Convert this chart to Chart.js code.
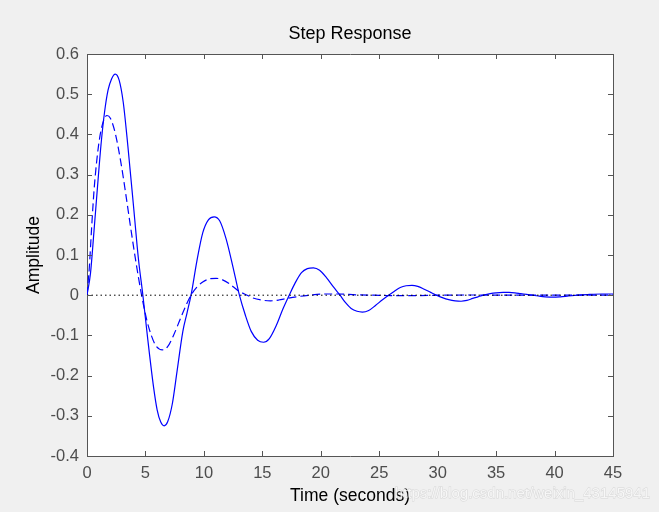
<!DOCTYPE html>
<html>
<head>
<meta charset="utf-8">
<script src="https://cdn.jsdelivr.net/npm/chart.js@4/dist/chart.umd.min.js"></script>
<style>
    html, body { margin: 0; padding: 0; background: #f0f0f0; }
    #wrap { width: 659px; height: 512px; }
</style>
</head>
<body>
<div id="wrap"><canvas id="grafico" width="659" height="512"></canvas></div>
<script>
// valori
const tempoPieno = [0, 0.3, 0.6, 0.9, 1.2, 1.5, 1.8, 2.1, 2.42, 2.75, 3.1, 3.5, 4.0, 4.4, 4.78,
    5.2, 5.7, 6.0, 6.3, 6.6, 6.9, 7.3, 7.7, 8.2, 8.55, 8.9, 9.4, 9.9, 10.4, 10.88, 11.35, 11.9, 12.45, 13.04,
    13.55, 14.05, 14.6, 15.1, 15.6, 16.2, 16.75, 17.3, 17.8, 18.35, 18.85, 19.37, 19.9, 20.5, 21.1, 21.65,
    22.1, 22.6, 23.1, 23.56, 24.1, 24.7, 25.25, 25.8, 26.3, 26.8, 27.3, 27.8, 28.3, 28.85, 29.4, 29.9,
    30.4, 30.95, 31.5, 32.0, 32.5, 33.0, 33.45, 33.9, 34.5, 35.0, 35.6, 36.1, 36.6, 37.1, 37.6, 38.1,
    38.6, 39.2, 39.9, 40.5, 41.2, 42.0, 43.0, 44.0, 45.0]
const rispostaPiena = [0, 0.055, 0.16, 0.27, 0.375, 0.455, 0.51, 0.538, 0.55, 0.535, 0.48, 0.37, 0.215, 0.09, 0,
    -0.11, -0.23, -0.285, -0.315, -0.325, -0.315, -0.27, -0.19, -0.09, -0.045, 0, 0.085, 0.155, 0.188, 0.195, 0.185, 0.14, 0.075, 0,
    -0.05, -0.09, -0.112, -0.117, -0.108, -0.075, -0.035, 0, 0.03, 0.056, 0.066, 0.068, 0.062, 0.043, 0.02, 0,
    -0.018, -0.033, -0.04, -0.042, -0.038, -0.025, -0.012, 0, 0.01, 0.019, 0.0235, 0.0245, 0.022, 0.015, 0.007, 0,
    -0.006, -0.011, -0.014, -0.015, -0.013, -0.008, -0.004, 0, 0.004, 0.006, 0.007, 0.007, 0.006, 0.004, 0.002, 0,
    -0.002, -0.004, -0.005, -0.004, -0.002, 0, 0.002, 0.003, 0.003]

const tempoTratteggio = [0, 0.2, 0.4, 0.6, 0.8, 1.0, 1.2, 1.45, 1.71, 2.0, 2.4, 2.9, 3.3, 3.7, 4.2, 4.67,
    5.1, 5.5, 5.9, 6.45, 6.9, 7.4, 7.9, 8.4, 8.9, 9.4, 9.9, 10.4, 11.05, 11.6, 12.2, 12.9, 13.7,
    14.2, 14.9, 15.7, 16.4, 17.1, 17.9, 19.0, 20.2, 21.5, 23.0, 24.5, 26, 28, 30, 33, 36, 40, 45]
const rispostaTratteggio = [0, 0.07, 0.17, 0.26, 0.325, 0.375, 0.41, 0.437, 0.447, 0.44, 0.405, 0.33, 0.255, 0.175, 0.08, 0,
    -0.06, -0.1, -0.126, -0.136, -0.128, -0.1, -0.065, -0.03, 0, 0.02, 0.033, 0.04, 0.042, 0.038, 0.028, 0.012, 0,
    -0.007, -0.012, -0.014, -0.012, -0.008, -0.004, 0, 0.003, 0.003, 0.001, 0, -0.001, -0.001, 0, 0.0005, 0, 0, 0]

const lineaZero = [0, 45]

const xTicks = [0, 5, 10, 15, 20, 25, 30, 35, 40, 45]
const yTicks = [-0.4, -0.3, -0.2, -0.1, 0, 0.1, 0.2, 0.3, 0.4, 0.5, 0.6]

const coloreAssi = '#555555'
const coloreTesto = '#4d4d4d'
const fontBase = '"Liberation Sans", Arial, sans-serif'

function punti(tt, yy) {
    return tt.map((t, i) => ({ x: t, y: yy[i] }))
}

// sfondo grigio + area bianca
const sfondo = {
    id: 'sfondo',
    beforeDraw(chart) {
        const ctx = chart.ctx
        const a = chart.chartArea
        ctx.save()
        ctx.fillStyle = '#f0f0f0'
        ctx.fillRect(0, 0, chart.width, chart.height)
        ctx.fillStyle = '#ffffff'
        ctx.fillRect(a.left, a.top, a.right - a.left, a.bottom - a.top)
        ctx.restore()
    }
}

// tacche verso l'interno su tutti i lati
const tacche = {
    id: 'tacche',
    afterDraw(chart) {
        const ctx = chart.ctx
        const a = chart.chartArea
        const sx = chart.scales.x
        const sy = chart.scales.y
        const l = 5
        ctx.save()
        ctx.strokeStyle = coloreAssi
        ctx.lineWidth = 1
        ctx.beginPath()
        xTicks.forEach(v => {
            let p = Math.round(sx.getPixelForValue(v)) + 0.5
            ctx.moveTo(p, a.bottom); ctx.lineTo(p, a.bottom - l)
            ctx.moveTo(p, a.top); ctx.lineTo(p, a.top + l)
        })
        yTicks.forEach(v => {
            let p = Math.round(sy.getPixelForValue(v)) + 0.5
            ctx.moveTo(a.left, p); ctx.lineTo(a.left + l, p)
            ctx.moveTo(a.right, p); ctx.lineTo(a.right - l, p)
        })
        ctx.stroke()
        // watermark
        ctx.font = '15px ' + fontBase
        ctx.textAlign = 'right'
        ctx.textBaseline = 'middle'
        ctx.fillStyle = 'rgba(255,255,255,0.75)'
        ctx.strokeStyle = 'rgba(170,170,170,0.35)'
        ctx.lineWidth = 1
        ctx.strokeText('https://blog.csdn.net/weixin_43145941', 650, 494)
        ctx.fillText('https://blog.csdn.net/weixin_43145941', 650, 494)
        ctx.restore()
    }
}

new Chart(
    document.getElementById('grafico'),
    {
        type: 'line',
        data: {
            datasets: [
                {
                    label: 'zero',
                    data: punti(lineaZero, [0, 0]),
                    borderColor: '#000000',
                    borderWidth: 1,
                    borderDash: [1.5, 3],
                    pointRadius: 0,
                },
                {
                    label: 'tratteggio',
                    data: punti(tempoTratteggio, rispostaTratteggio),
                    borderColor: '#0000ff',
                    borderWidth: 1.2,
                    borderDash: [8, 4],
                    pointRadius: 0,
                    cubicInterpolationMode: 'monotone',
                },
                {
                    label: 'pieno',
                    data: punti(tempoPieno, rispostaPiena),
                    borderColor: '#0000ff',
                    borderWidth: 1.2,
                    pointRadius: 0,
                    cubicInterpolationMode: 'monotone',
                },
            ]
        },
        options: {
            responsive: false,
            animation: false,
            layout: { padding: 0 },
            plugins: {
                legend: { display: false },
                tooltip: { enabled: false },
                title: { display: false },
            },
            scales: {
                x: {
                    type: 'linear',
                    position: 'bottom',
                    min: 0,
                    max: 45,
                    afterBuildTicks: s => { s.ticks = xTicks.map(v => ({ value: v })) },
                    afterFit: s => { s.height = 56 },
                    grid: { display: false, drawTicks: false },
                    border: { display: true, color: coloreAssi, width: 1 },
                    ticks: {
                        color: coloreTesto,
                        padding: 8,
                        maxRotation: 0,
                        font: { family: fontBase, size: 16.5 },
                    },
                    title: {
                        display: true,
                        text: 'Time (seconds)',
                        color: '#000000',
                        font: { family: fontBase, size: 17.5 },
                        padding: { top: 0, bottom: 5 },
                    },
                },
                x2: {
                    type: 'linear',
                    position: 'top',
                    min: 0,
                    max: 45,
                    afterFit: s => { s.height = 54 },
                    grid: { display: false, drawTicks: false },
                    border: { display: true, color: coloreAssi, width: 1 },
                    ticks: { display: false },
                    title: {
                        display: true,
                        text: 'Step Response',
                        color: '#000000',
                        font: { family: fontBase, size: 18 },
                        padding: { top: 23, bottom: 0 },
                    },
                },
                y: {
                    type: 'linear',
                    position: 'left',
                    min: -0.4,
                    max: 0.6,
                    afterBuildTicks: s => { s.ticks = yTicks.map(v => ({ value: v })) },
                    afterFit: s => { s.width = 87 },
                    grid: { display: false, drawTicks: false },
                    border: { display: true, color: coloreAssi, width: 1 },
                    ticks: {
                        color: coloreTesto,
                        padding: 8,
                        font: { family: fontBase, size: 16.5 },
                        callback: v => String(Math.round(v * 10) / 10),
                    },
                    title: {
                        display: true,
                        text: 'Amplitude',
                        color: '#000000',
                        font: { family: fontBase, size: 17.5 },
                        padding: { top: 24, bottom: 0 },
                    },
                },
                y2: {
                    type: 'linear',
                    position: 'right',
                    min: -0.4,
                    max: 0.6,
                    afterFit: s => { s.width = 46 },
                    grid: { display: false, drawTicks: false },
                    border: { display: true, color: coloreAssi, width: 1 },
                    ticks: { display: false },
                },
            }
        },
        plugins: [sfondo, tacche]
    }
)
</script>
</body>
</html>
